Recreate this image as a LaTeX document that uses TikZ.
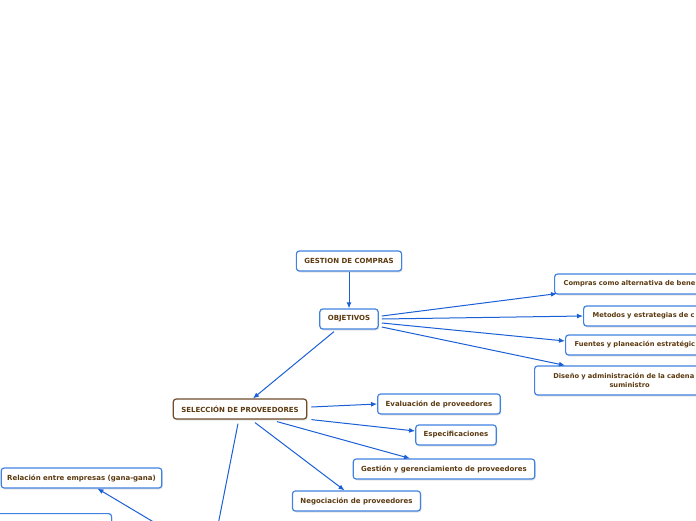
\documentclass[tikz,border=0pt]{standalone}
\usepackage{fontspec}
\setmainfont{DejaVu Sans}
\usetikzlibrary{arrows.meta,shadows,calc}

\definecolor{txtbrown}{HTML}{5C3A10}
\definecolor{boxblue}{HTML}{3F82E0}
\definecolor{lineblue}{HTML}{1A5FD6}
\definecolor{boxbrown}{HTML}{6E4C2C}

\begin{document}
\begin{tikzpicture}[x=1pt, y=-1pt, >={Latex[length=6pt,width=5pt]},
    font=\fontsize{7}{8.5}\selectfont\bfseries,
    idea/.style={draw=boxblue, line width=1.2pt, rounded corners=3pt, fill=white,
      text=txtbrown, minimum height=20pt, inner xsep=8pt,
      drop shadow={shadow xshift=1pt, shadow yshift=-1.5pt, fill=black!20}},
    topic/.style={idea, draw=boxbrown},
    edgebox/.style={idea, anchor=west, align=left, inner xsep=9pt,
      font=\fontsize{6.7}{8.5}\selectfont\bfseries},
    link/.style={->, draw=lineblue, line width=1pt}]
    % page frame
    \useasboundingbox (0,0) rectangle (696,520);
    \clip (0,0) rectangle (696,520);
    % main branch
    \node[idea] (gest) at (349,261) {GESTION DE COMPRAS};
    \node[idea] (obj) at (349,319) {OBJETIVOS};
    \node[topic] (sel) at (240,409) {SELECCIÓN DE PROVEEDORES};
    % objetivos, cut at the right border
    \node[edgebox, text width=170pt] (cmp) at (554,284) {Compras como alternativa de bene};
    \node[edgebox, text width=150pt] (mtd) at (583,316) {Metodos y estrategias de c};
    \node[edgebox, text width=150pt] (fue) at (565,345) {Fuentes y planeación estratégic};
    \node[edgebox, anchor=west, text width=174pt, align=center, inner xsep=8pt, minimum height=29pt, inner ysep=2pt] (dis) at (534,380.5)
      {Diseño y administración de la cadena\phantom{ de}\\suministro};
    % seleccion de proveedores
    \node[idea] (eva) at (439,404) {Evaluación de proveedores};
    \node[idea] (esp) at (456,435) {Especificaciones};
    \node[idea] (ges) at (444,469) {Gestión y gerenciamiento de proveedores};
    \node[idea] (neg) at (356.5,501) {Negociación de proveedores};
    % lower left, cut at the bottom border
    \node[idea, inner xsep=6pt] (rel) at (81.5,478) {Relación entre empresas (gana-gana)};
    \node[idea, anchor=north west, minimum width=116pt, minimum height=20pt] (low) at (-5,513) {};
    % free ends below the page
    \coordinate (selEnd) at (217,530);
    \coordinate (relEnd) at (167,530);
    % connectors
    \draw[link] (gest) -- (obj);
    \draw[link] ($(obj.east)+(3,-3)$) -- ($(cmp.south west)+(3,-1)$);
    \draw[link] ($(obj.east)+(3,0)$) -- (mtd.west);
    \draw[link] ($(obj.east)+(3,4)$) -- ($(fue.west)+(0,-4)$);
    \draw[link] ($(obj.east)+(3,8)$) -- ($(dis.north west)+(31,0)$);
    \draw[link] ($(obj.south)+(-15,2)$) -- ($(sel.north)+(13,0)$);
    \draw[link] ($(sel.east)+(4,-2)$) -- (eva.west);
    \draw[link] ($(sel.south east)+(4,0)$) -- ($(esp.west)+(0,-4)$);
    \draw[link] ($(sel.south)+(37,2)$) -- ($(ges.north)+(-34,0)$);
    \draw[link] ($(sel.south)+(15,3)$) -- ($(neg.north)+(-12,0)$);
    \draw[link, -] ($(sel.south)+(-2,4)$) -- (selEnd);
    \draw[link] (relEnd) -- ($(rel.south)+(16,0)$);
\end{tikzpicture}
\end{document}
